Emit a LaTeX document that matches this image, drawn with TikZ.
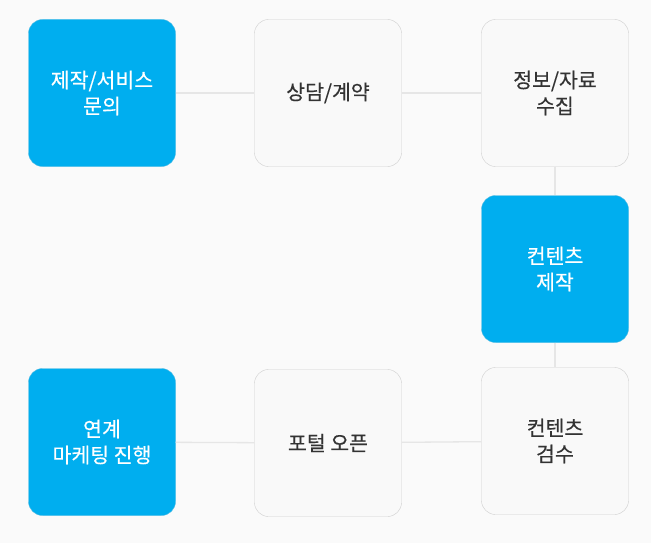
\documentclass[tikz,border=0pt]{standalone}
\usepackage{fontspec}
\setmainfont{Noto Sans CJK KR}[FakeBold=0.35]
\usepackage{xcolor}
\usepackage{tikz}
\definecolor{bgcol}{HTML}{FAFAFA}
\definecolor{stepblue}{HTML}{00AEEF}
\definecolor{stepgray}{HTML}{F9F9F9}
\definecolor{edgegray}{HTML}{CFCFCF}
\definecolor{linkgray}{HTML}{E6E6E6}
\definecolor{txtgray}{HTML}{333333}

\begin{document}
\begin{tikzpicture}[x=1pt,y=-1pt,font=\fontsize{20.5}{26}\selectfont,
    box/.style={rounded corners=14pt, minimum width=147pt, minimum height=147pt, align=center, inner sep=0pt},
    hibox/.style={box, fill=stepblue, draw=stepblue!60!edgegray, text=white},
    lobox/.style={box, fill=stepgray, draw=edgegray, text=txtgray},
    link/.style={draw=linkgray, line width=1.3pt}]
  % ---------- canvas ----------
  \fill[bgcol] (0,0) rectangle (651,543);
  \useasboundingbox (0,0) rectangle (651,543);
  % ---------- top row ----------
  \node[hibox] (inq)     at (102,93)  {제작/서비스\\문의};
  \node[lobox] (consult) at (328,93)  {상담/계약};
  \node[lobox] (collect) at (555,93)  {정보/자료\\수집};
  % ---------- right column ----------
  \node[hibox] (make)    at (555,269) {컨텐츠\\제작};
  % ---------- bottom row ----------
  \node[lobox] (review)  at (555,441) {컨텐츠\\검수};
  \node[lobox] (portal)  at (328,443) {포털 오픈};
  \node[hibox] (market)  at (102,442) {연계\\마케팅 진행};
  % ---------- links ----------
  \draw[link] (inq) -- (consult);
  \draw[link] (consult) -- (collect);
  \draw[link] (collect) -- (make);
  \draw[link] (make) -- (review);
  \draw[link] (review) -- (portal);
  \draw[link] (portal) -- (market);
\end{tikzpicture}
\end{document}
